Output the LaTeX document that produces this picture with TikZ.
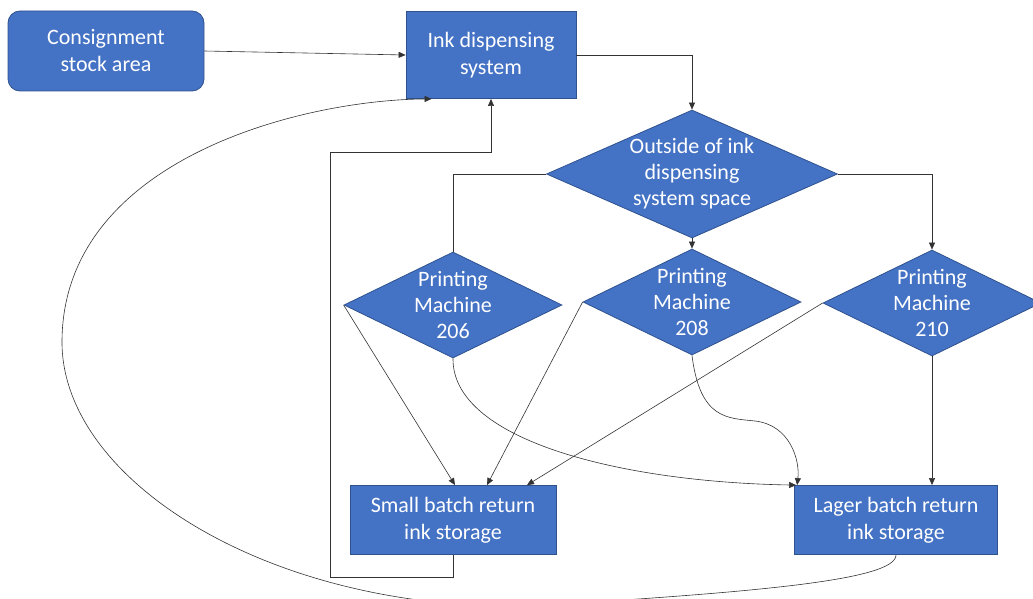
\documentclass[tikz,border=0pt]{standalone}
\usepackage{fontspec}
\setmainfont{Carlito}
\usetikzlibrary{shapes.geometric,arrows.meta,calc}
\definecolor{boxfill}{HTML}{4472C4}
\definecolor{boxline}{HTML}{2F528F}
\definecolor{connc}{HTML}{333333}
\begin{document}
\begin{tikzpicture}[x=1pt,y=-1pt,
  box/.style={draw=boxline, fill=boxfill, line width=0.8pt, text=white, align=center,
    font=\fontsize{22}{27}\selectfont, inner sep=0pt},
  dia/.style={diamond, draw=boxline, fill=boxfill, line width=0.8pt, inner sep=0pt},
  dtext/.style={text=white, align=center, font=\fontsize{22}{26}\selectfont, inner sep=0pt},
  conn/.style={draw=connc, line width=0.6pt},
  arr/.style={conn, -{Triangle[length=7pt,width=6pt]}}]
\useasboundingbox (0,0) rectangle (1033,599);
% boxes
\node[box, rounded corners=12pt, minimum width=196pt, minimum height=80pt] (cons) at (106,51) {Consignment\\stock area};
\node[box, minimum width=170pt, minimum height=87pt] (ink) at (491,55) {Ink dispensing\\system};
\node[box, minimum width=206pt, minimum height=69pt] (small) at (453,520) {Small batch return\\ink storage};
\node[box, minimum width=203pt, minimum height=69pt] (lager) at (896,520) {Lager batch return\\ink storage};
% diamonds
\node[dia, minimum width=291pt, minimum height=128pt, label={[dtext]center:Outside of ink\\dispensing\\system space}] (out) at (692,174) {};
\node[dia, minimum width=218pt, minimum height=106pt, label={[dtext]center:Printing\\Machine\\206}] (m206) at (453,305) {};
\node[dia, minimum width=218pt, minimum height=106pt, label={[dtext]center:Printing\\Machine\\208}] (m208) at (692,302) {};
\node[dia, minimum width=218pt, minimum height=106pt, label={[dtext]center:Printing\\Machine\\210}] (m210) at (932,303) {};
% helper coordinates
\coordinate (fb1) at (330,577);
\coordinate (fb2) at (491,152);
\coordinate (k1) at (755,421);
\coordinate (b1) at (530,606);
\coordinate (b2) at (62,340);
% connectors
\draw[arr] (cons.east) -- (ink.west);
\draw[arr] (ink.east) -| (out.north);
\draw[conn] (out.west) -| (m206.north);
\draw[arr] (out.south) -- (m208.north);
\draw[arr] (out.east) -| (m210.north);
\draw[arr] (m206.west) -- ([xshift=2pt]small.north);
\draw[arr] (m208.west) -- ([xshift=34pt]small.north);
\draw[arr] (m210.west) -- ([xshift=74pt]small.north);
\draw[arr] (m210.south) -- (m210.south |- lager.north);
\draw[arr] (m206.south) .. controls (452,440) and (620,482) .. ([xshift=2pt]lager.north west);
\draw[arr] (m208.south) .. controls (700,420) and (728,418) .. (k1) .. controls (790,425) and (800,460) .. ([xshift=3pt]lager.north west);
\draw[arr] (small.south) |- (fb1) |- (fb2) -- (ink.south);
\draw[arr] (lager.south) .. controls (896,580) and (760,592) .. (b1)
  .. controls (270,612) and (60,480) .. (b2)
  .. controls (64,160) and (300,100) .. ([xshift=26pt]ink.south west);
\end{tikzpicture}
\end{document}
